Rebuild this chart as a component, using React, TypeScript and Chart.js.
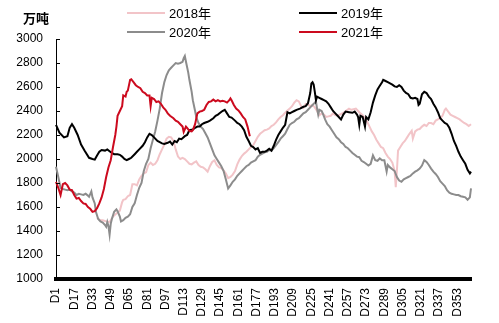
import { useEffect, useRef } from 'react';
import { Chart, registerables } from 'chart.js';
Chart.register(...registerables);

const categories: string[] = [];
for (let i = 1; i <= 365; i++) categories.push('D' + i);

const yTicks = [1000, 1200, 1400, 1600, 1800, 2000, 2200, 2400, 2600, 2800, 3000];
const unitLabel = '万吨';
const seriesNames = ['2018年', '2019年', '2020年', '2021年'];
const seriesColors = ['#F2C4C8', '#000000', '#8C8C8C', '#CC0A1E'];

const s2018: [number, number][] = [
  [37,1510],[40,1490],[42,1490],[45,1480],[48,1475],[51,1520],[54,1545],[57,1570],[59,1640],[60,1660],[62,1665],[64,1690],[66,1700],[68,1790],[70,1790],[72,1780],[74,1830],[76,1860],[78,1880],[80,1890],[82,1950],[84,1970],[86,1950],[88,1960],[90,1990],[92,2040],[94,2080],[96,2120],[98,2170],[100,2185],[102,2180],[104,2150],[106,2080],[108,2020],[110,2000],[112,2010],[114,2000],[116,1980],[118,1960],[120,1955],[122,1970],[124,1980],[126,1950],[128,1935],[130,1930],[132,1915],[134,1895],[136,1940],[138,1975],[140,1990],[142,1950],[144,1930],[146,1925],[148,1905],[150,1880],[152,1840],[154,1850],[156,1870],[158,1900],[160,1955],[162,1995],[164,2025],[166,2045],[168,2060],[170,2080],[172,2100],[174,2115],[176,2150],[178,2185],[180,2210],[182,2225],[184,2240],[186,2245],[188,2255],[190,2275],[192,2285],[194,2305],[196,2330],[198,2350],[200,2365],[202,2385],[204,2405],[206,2420],[208,2440],[210,2470],[212,2490],[214,2480],[216,2440],[218,2425],[220,2460],[222,2455],[224,2440],[226,2450],[228,2430],[230,2400],[232,2365],[234,2380],[236,2370],[238,2350],[240,2355],[242,2360],[244,2380],[246,2365],[248,2360],[250,2370],[252,2380],[254,2390],[256,2405],[258,2420],[260,2410],[262,2415],[264,2420],[266,2400],[268,2380],[270,2365],[272,2340],[274,2310],[276,2270],[278,2230],[280,2200],[282,2160],[284,2130],[286,2100],[288,2090],[290,2050],[292,2020],[294,2000],[296,1970],[298,1900],[299,1765],[300,1900],[301,2070],[303,2100],[305,2130],[307,2150],[309,2180],[311,2210],[313,2235],[314,2170],[316,2230],[318,2245],[320,2250],[322,2270],[324,2285],[326,2275],[328,2300],[330,2300],[332,2290],[334,2320],[336,2330],[338,2340],[340,2360],[342,2410],[343,2420],[345,2395],[347,2370],[349,2360],[351,2350],[353,2340],[355,2330],[357,2315],[359,2300],[361,2290],[363,2275],[365,2290]
];

const s2019: [number, number][] = [
  [1,2285],[4,2220],[8,2180],[11,2190],[13,2260],[15,2290],[17,2260],[20,2200],[23,2120],[26,2070],[30,2010],[33,2000],[35,1995],[37,2030],[39,2060],[41,2075],[44,2070],[46,2080],[48,2065],[50,2050],[52,2040],[55,2040],[57,2035],[59,2020],[61,2000],[63,1990],[65,2000],[67,2010],[70,2040],[72,2060],[74,2080],[77,2110],[79,2140],[81,2180],[83,2210],[85,2200],[87,2180],[90,2150],[92,2140],[94,2130],[96,2125],[99,2135],[101,2145],[103,2120],[105,2150],[107,2140],[109,2170],[111,2165],[114,2190],[116,2200],[118,2240],[121,2245],[123,2260],[125,2270],[127,2270],[129,2290],[131,2300],[134,2310],[136,2320],[139,2340],[141,2360],[143,2370],[145,2385],[147,2400],[149,2410],[151,2380],[153,2350],[155,2345],[158,2320],[160,2300],[162,2290],[164,2270],[166,2240],[168,2185],[170,2150],[172,2110],[174,2100],[176,2080],[178,2090],[180,2050],[182,2060],[184,2060],[186,2070],[188,2085],[190,2070],[192,2110],[194,2160],[196,2200],[198,2230],[200,2260],[202,2285],[204,2390],[206,2380],[208,2390],[210,2400],[212,2410],[215,2420],[218,2435],[220,2440],[222,2465],[224,2550],[225,2630],[226,2640],[227,2620],[228,2560],[229,2490],[230,2520],[232,2510],[234,2500],[236,2490],[238,2480],[240,2460],[242,2430],[244,2400],[246,2380],[248,2360],[250,2340],[251,2330],[253,2370],[255,2395],[258,2390],[261,2385],[263,2395],[265,2370],[266,2350],[267,2285],[268,2360],[270,2350],[272,2270],[273,2350],[275,2330],[277,2390],[279,2470],[281,2530],[283,2580],[285,2610],[287,2640],[288,2660],[290,2650],[292,2640],[294,2630],[296,2620],[298,2605],[300,2600],[302,2615],[304,2600],[306,2570],[308,2550],[310,2540],[312,2510],[314,2505],[316,2510],[318,2500],[319,2450],[320,2460],[322,2540],[324,2560],[326,2550],[328,2520],[330,2500],[332,2460],[334,2430],[336,2390],[338,2340],[340,2320],[342,2300],[344,2290],[346,2260],[348,2210],[350,2150],[352,2110],[354,2060],[356,2020],[358,1990],[360,1960],[362,1910],[364,1880],[365,1895]
];

const s2020: [number, number][] = [
  [1,1935],[3,1850],[5,1760],[7,1750],[9,1745],[11,1740],[13,1745],[15,1730],[17,1720],[19,1700],[21,1710],[23,1705],[25,1700],[27,1710],[29,1695],[30,1685],[32,1730],[33,1680],[35,1630],[36,1560],[38,1500],[40,1480],[42,1470],[44,1450],[45,1435],[46,1475],[47,1440],[48,1370],[49,1460],[50,1500],[52,1560],[54,1580],[55,1565],[57,1520],[58,1480],[60,1490],[62,1510],[64,1520],[66,1540],[68,1600],[70,1630],[72,1700],[74,1760],[76,1800],[78,1900],[80,1960],[82,2000],[84,2090],[86,2160],[88,2230],[90,2320],[92,2420],[94,2550],[96,2640],[98,2700],[100,2740],[102,2760],[104,2780],[106,2800],[108,2795],[110,2800],[112,2810],[113,2840],[114,2858],[115,2810],[117,2720],[118,2660],[120,2560],[121,2490],[123,2400],[124,2350],[126,2300],[128,2270],[130,2250],[132,2215],[134,2180],[136,2130],[138,2080],[140,2030],[142,2000],[144,1970],[146,1940],[148,1900],[150,1830],[152,1755],[154,1780],[156,1810],[158,1830],[160,1860],[162,1880],[164,1900],[166,1920],[168,1940],[170,1950],[172,1970],[174,1980],[176,1990],[178,2020],[180,2035],[182,2045],[184,2055],[186,2060],[188,2075],[190,2070],[192,2090],[194,2115],[196,2140],[198,2170],[200,2190],[202,2210],[204,2250],[206,2285],[208,2300],[210,2310],[212,2330],[214,2340],[216,2360],[218,2380],[220,2390],[222,2410],[224,2430],[226,2450],[228,2470],[229,2480],[230,2420],[231,2370],[232,2410],[234,2400],[235,2380],[237,2330],[239,2290],[241,2270],[243,2240],[245,2210],[247,2180],[249,2165],[251,2140],[253,2125],[255,2100],[257,2090],[259,2070],[261,2050],[263,2035],[265,2020],[267,2015],[269,1985],[271,1975],[273,1960],[275,1945],[277,1960],[279,2030],[281,1990],[283,1985],[285,2005],[287,1990],[289,1990],[291,1895],[292,1950],[294,1930],[296,1915],[298,1900],[300,1850],[302,1820],[304,1810],[306,1830],[308,1840],[310,1850],[312,1860],[314,1880],[316,1895],[318,1905],[320,1920],[322,1945],[324,1990],[326,1975],[328,1950],[330,1920],[332,1895],[334,1875],[336,1850],[338,1815],[340,1795],[342,1775],[344,1740],[346,1720],[348,1710],[350,1705],[352,1700],[354,1700],[356,1690],[358,1685],[360,1680],[362,1660],[364,1680],[365,1755]
];

const s2021: [number, number][] = [
  [1,1810],[3,1760],[5,1700],[7,1790],[9,1800],[11,1780],[13,1745],[15,1740],[17,1700],[19,1670],[21,1675],[23,1650],[25,1630],[27,1625],[29,1600],[31,1585],[33,1560],[35,1565],[37,1590],[39,1630],[41,1680],[43,1750],[45,1850],[47,1930],[49,1990],[51,2100],[53,2200],[54,2270],[55,2360],[57,2400],[59,2440],[60,2530],[62,2520],[63,2560],[64,2570],[66,2660],[67,2665],[69,2640],[71,2615],[73,2600],[75,2590],[77,2560],[79,2550],[81,2530],[83,2530],[84,2440],[85,2510],[87,2500],[89,2475],[91,2480],[93,2460],[95,2430],[97,2410],[99,2380],[101,2360],[104,2340],[106,2320],[108,2310],[110,2290],[112,2270],[113,2225],[115,2270],[116,2260],[118,2235],[120,2230],[121,2240],[123,2290],[125,2380],[127,2395],[129,2400],[131,2410],[133,2450],[135,2475],[137,2480],[139,2495],[141,2480],[143,2490],[145,2480],[147,2485],[149,2480],[151,2470],[153,2490],[154,2505],[155,2490],[157,2450],[159,2420],[161,2405],[163,2380],[165,2350],[167,2330],[169,2270],[171,2190]
];

const seriesData = [s2018, s2019, s2020, s2021];
const drawOrder = [3, 1, 2, 0];

const FONT = '"Liberation Sans", Arial, "Noto Sans CJK SC", sans-serif';

const decorPlugin = {
  id: 'decor',
  afterDraw(chart: any) {
    const ctx = chart.ctx;
    const y = chart.scales.y;
    const area = chart.chartArea;
    ctx.save();
    ctx.strokeStyle = '#000';
    ctx.lineWidth = 1;
    for (const v of yTicks) {
      const py = Math.round(y.getPixelForValue(v)) + 0.5;
      ctx.beginPath();
      ctx.moveTo(area.left, py);
      ctx.lineTo(area.left + 4, py);
      ctx.stroke();
    }
    ctx.fillStyle = '#000';
    ctx.font = 'bold 13px "Noto Sans CJK SC", sans-serif';
    ctx.textBaseline = 'middle';
    ctx.textAlign = 'left';
    ctx.fillText(unitLabel, 23, 18);
    const pos = [
      [127, 13],
      [299, 13],
      [127, 32],
      [299, 32],
    ];
    ctx.font = '13px ' + FONT;
    seriesNames.forEach((name, i) => {
      const [lx, ly] = pos[i];
      ctx.strokeStyle = seriesColors[i];
      ctx.lineWidth = 2;
      ctx.beginPath();
      ctx.moveTo(lx, ly);
      ctx.lineTo(lx + 38, ly);
      ctx.stroke();
      ctx.fillStyle = '#000';
      ctx.fillText(name, lx + 42, ly + 1);
    });
    ctx.restore();
  },
};

export default function App() {
  const ref = useRef<HTMLCanvasElement>(null);
  useEffect(() => {
    document.body.style.margin = '0';
    const canvas = ref.current!;
    const chart = new Chart(canvas, {
      type: 'line',
      data: {
        labels: categories,
        datasets: seriesNames.map((name, i) => ({
          label: name,
          data: seriesData[i].map(([d, v]) => ({ x: 'D' + d, y: v })),
          borderColor: seriesColors[i],
          backgroundColor: seriesColors[i],
          borderWidth: 2,
          pointRadius: 0,
          tension: 0,
          fill: false,
          order: drawOrder[i],
        })),
      },
      options: {
        responsive: false,
        animation: false,
        devicePixelRatio: 1,
        layout: { padding: { top: 39, right: 28, left: 0, bottom: 0 } },
        plugins: { legend: { display: false }, tooltip: { enabled: false } },
        scales: {
          x: {
            type: 'category',
            grid: { display: false, drawTicks: false },
            border: { display: true, color: '#000', width: 4 },
            ticks: {
              autoSkip: false,
              minRotation: 90,
              maxRotation: 90,
              padding: 9,
              color: '#000',
              font: { family: FONT, size: 12 },
              callback: (_v: any, idx: number) => (idx % 16 === 0 ? categories[idx] : ''),
            },
            afterFit: (s: any) => { s.height = 44; },
          },
          y: {
            min: 1000,
            max: 3000,
            grid: { display: false, drawTicks: false },
            border: { display: true, color: '#000', width: 1 },
            ticks: {
              stepSize: 200,
              padding: 13,
              color: '#000',
              font: { family: FONT, size: 12 },
              callback: (v: any) => String(v),
            },
            afterFit: (s: any) => { s.width = 56; },
          },
        },
      },
      plugins: [decorPlugin],
    });
    return () => chart.destroy();
  }, []);
  return (
    <div style={{ width: 499, height: 323, background: '#fff' }}>
      <canvas ref={ref} width={499} height={323} />
    </div>
  );
}
